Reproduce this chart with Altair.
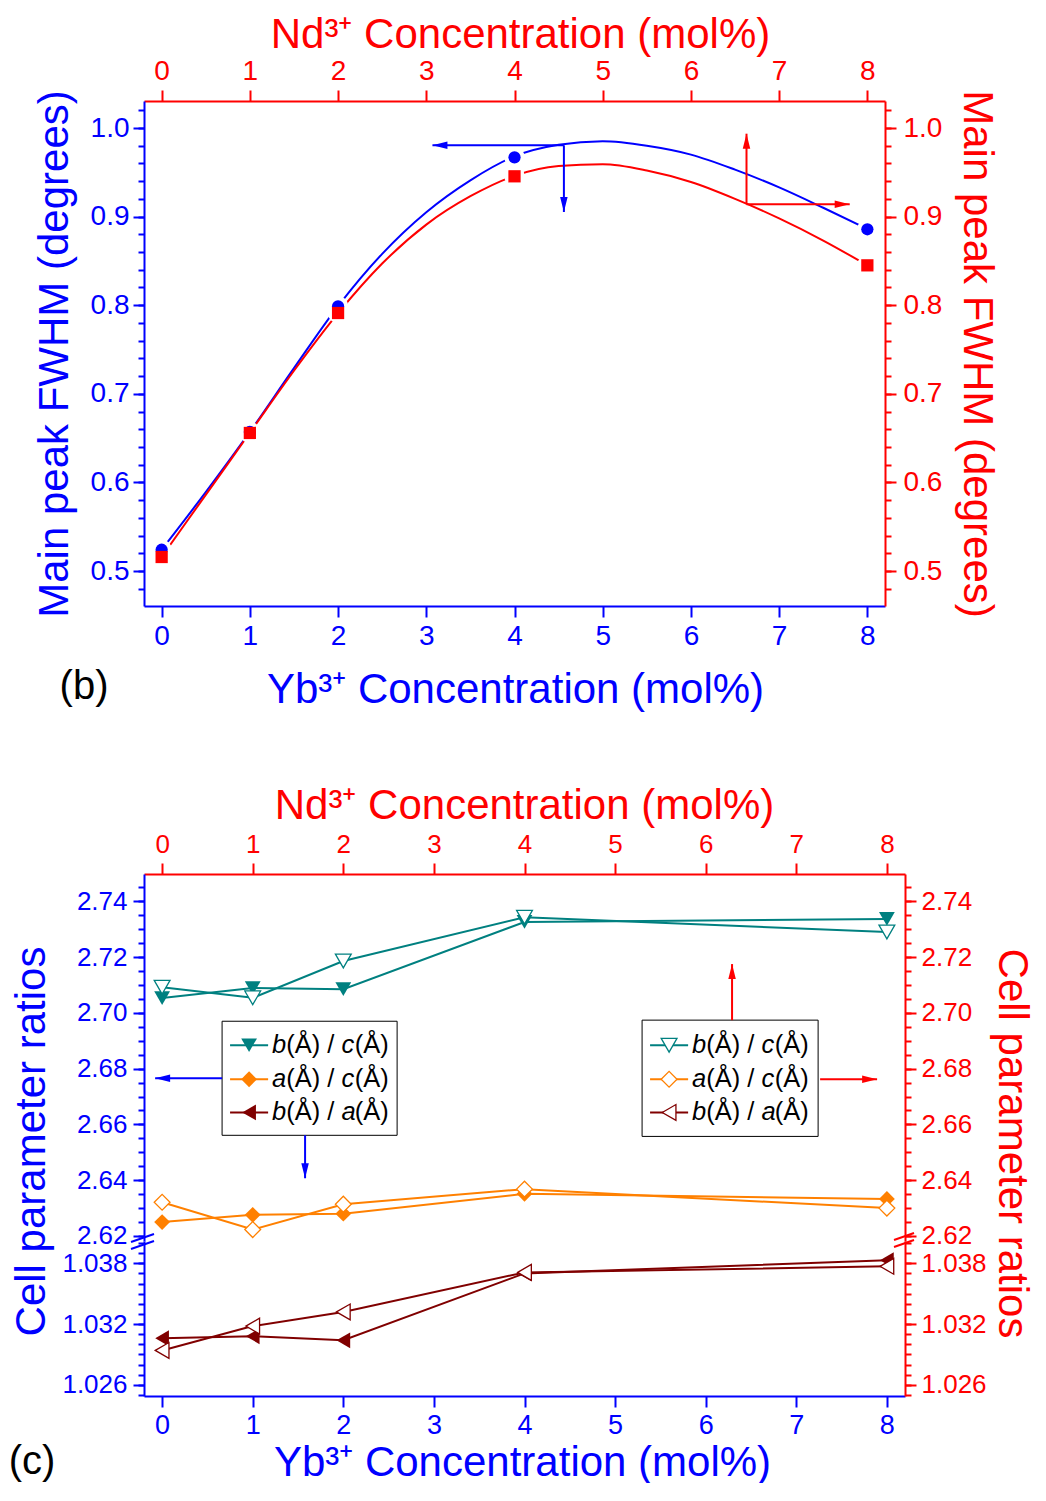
import altair as alt
import pandas as pd

# ---------------- data ----------------
conc = [0, 1, 2, 4, 8]
fwhm_yb = [0.5240, 0.6569, 0.7988, 0.9669, 0.8857]
fwhm_nd = [0.5158, 0.6558, 0.7912, 0.9455, 0.8450]

# spline curves of panel (b)
curve_x = [0, 0.5, 1, 1.5, 2, 2.5, 3, 3.5, 4, 4.5, 5, 5.5, 6, 6.5, 7, 7.5, 8]
curve_yb = [0.524, 0.589, 0.657, 0.729, 0.799, 0.858, 0.905, 0.941, 0.968,
            0.981, 0.985, 0.980, 0.970, 0.953, 0.933, 0.910, 0.886]
curve_nd = [0.516, 0.586, 0.656, 0.726, 0.791, 0.847, 0.891, 0.923, 0.946,
            0.957, 0.959, 0.952, 0.939, 0.920, 0.898, 0.873, 0.845]

bc_yb = [2.7053, 2.7089, 2.7085, 2.7326, 2.7337]
bc_nd = [2.7092, 2.7054, 2.7186, 2.7343, 2.7290]
ac_yb = [2.6250, 2.6276, 2.6280, 2.6351, 2.6333]
ac_nd = [2.6321, 2.6223, 2.6314, 2.6368, 2.6300]
ba_yb = [1.0306, 1.0308, 1.0304, 1.0370, 1.0383]
ba_nd = [1.0294, 1.0318, 1.0332, 1.0371, 1.0377]

x_ticks = [0, 1, 2, 3, 4, 5, 6, 7, 8]
ratio_keys = ["bc", "ac", "ba"]
ratio_first = ["b", "a", "b"]
ratio_second = ["c", "c", "a"]
ratio_colors = ["#008080", "#ff8000", "#800000"]
ratio_shapes = ["triangle-down", "diamond", "triangle-left"]

X_YB = "Yb³⁺ Concentration (mol%)"
X_ND = "Nd³⁺ Concentration (mol%)"
Y_B = "Main peak FWHM (degrees)"
Y_C = "Cell parameter ratios"

FONT = "Liberation Sans"
BLUE, RED = "#0000ff", "#ff0000"
ARROW = "M0,0L-0.5,2L0.5,2Z"
TFS = 42  # axis title font size

df_b = pd.DataFrame({"x": conc * 2, "y": fwhm_yb + fwhm_nd,
                     "s": ["Yb"] * 5 + ["Nd"] * 5})
df_curve = pd.DataFrame({"x": curve_x * 2, "y": curve_yb + curve_nd,
                         "s": ["Yb"] * len(curve_x) + ["Nd"] * len(curve_x)})
rows = []
for key, yb, nd in [("bc", bc_yb, bc_nd), ("ac", ac_yb, ac_nd), ("ba", ba_yb, ba_nd)]:
    for x, v in zip(conc, yb):
        rows.append({"x": x, "v": v, "r": key, "k": "Yb"})
    for x, v in zip(conc, nd):
        rows.append({"x": x, "v": v, "r": key, "k": "Nd"})
df_c = pd.DataFrame(rows)


# ---------------- axis helpers ----------------
def xaxis(orient, color, title, tx, ty, pad, lsize):
    return alt.Axis(orient=orient, values=x_ticks, format="d", grid=False,
                    domainColor=color, domainWidth=2, tickColor=color, tickWidth=2,
                    tickSize=11, labelColor=color, labelFont=FONT, labelFontSize=lsize,
                    labelPadding=pad, labelFlush=False, labelOverlap=False,
                    title=title, titleColor=color, titleFont=FONT, titleFontSize=TFS,
                    titleFontWeight="normal", titleX=tx, titleY=ty, titleAlign="center",
                    titleBaseline="alphabetic", titleAngle=0)


def yaxis(orient, color, values, fmt, lsize, pad, title=None, tx=0, ty=0):
    kw = dict(orient=orient, values=values, format=fmt, grid=False,
              domainColor=color, domainWidth=2, tickColor=color, tickWidth=2,
              tickSize=11, labelColor=color, labelFont=FONT, labelFontSize=lsize,
              labelPadding=pad, labelFlush=False, labelOverlap=False)
    if title:
        kw.update(title=title, titleColor=color, titleFont=FONT, titleFontSize=TFS,
                  titleFontWeight="normal", titleX=tx, titleY=ty,
                  titleAngle=270 if orient == "left" else 90,
                  titleAlign="center", titleBaseline="middle")
    else:
        kw["title"] = None
    return alt.Axis(**kw)


def minor(orient, color, values):
    return alt.Axis(orient=orient, values=values, labels=False, domain=False, grid=False,
                    tickColor=color, tickWidth=2, tickSize=6, title=None)


XDOM = [-0.2, 8.2]

# ---------------- panel (b) ----------------
W_B, H_B = 741, 505
xsc_b = alt.Scale(domain=XDOM, nice=False, zero=False)
ysc_b = alt.Scale(domain=[0.4605, 1.0305], nice=False, zero=False)
yb_major = [0.5, 0.6, 0.7, 0.8, 0.9, 1.0]
yb_minor = [round(0.46 + 0.02 * i, 2) for i in range(29)]

src_c = alt.Chart(df_curve)
fit_yb = src_c.transform_filter(alt.datum.s == "Yb").mark_line(
    color=BLUE, strokeWidth=2, interpolate="monotone"
).encode(
    x=alt.X("x:Q", scale=xsc_b, axis=xaxis("bottom", BLUE, X_YB, 371, 96, 5, 28)),
    y=alt.Y("y:Q", scale=ysc_b, axis=yaxis("left", BLUE, yb_major, ".1f", 28, 4, Y_B, -90, 252.5)),
)
fit_nd = src_c.transform_filter(alt.datum.s == "Nd").mark_line(
    color=RED, strokeWidth=2, interpolate="monotone"
).encode(
    x=alt.X("x:Q", scale=xsc_b, axis=xaxis("top", RED, X_ND, 376, -54, 5, 28)),
    y=alt.Y("y:Q", scale=ysc_b, axis=yaxis("right", RED, yb_major, ".1f", 28, 7, Y_B, 91, 252.5)),
)
src_b = alt.Chart(df_b)
halo = src_b.mark_point(shape="circle", filled=True, size=420, color="white", opacity=1).encode(
    x=alt.X("x:Q", scale=xsc_b, axis=None),
    y=alt.Y("y:Q", scale=ysc_b, axis=None),
)
pts_yb = src_b.transform_filter(alt.datum.s == "Yb").mark_point(
    shape="circle", filled=True, size=150, color=BLUE, opacity=1
).encode(
    x=alt.X("x:Q", scale=xsc_b, axis=None),
    y=alt.Y("y:Q", scale=ysc_b, axis=minor("left", BLUE, yb_minor)),
)
pts_nd = src_b.transform_filter(alt.datum.s == "Nd").mark_point(
    shape="square", filled=True, size=150, color=RED, opacity=1
).encode(
    x=alt.X("x:Q", scale=xsc_b, axis=None),
    y=alt.Y("y:Q", scale=ysc_b, axis=minor("right", RED, yb_minor)),
)

arr_b = pd.DataFrame({
    "x1": [4.56, 4.56, 6.63, 6.63],
    "y1": [0.9805, 0.9805, 0.914, 0.914],
    "x2": [3.07, 4.56, 6.63, 7.80],
    "y2": [0.9805, 0.9052, 0.9936, 0.914],
    "c": [BLUE, BLUE, RED, RED],
    "a": [270, 180, 0, 90],
})


def arrows(df, xsc, ysc):
    rules = alt.Chart(df).mark_rule(strokeWidth=2).encode(
        x=alt.X("x1:Q", scale=xsc, axis=None), x2="x2:Q",
        y=alt.Y("y1:Q", scale=ysc, axis=None), y2="y2:Q",
        color=alt.Color("c:N", scale=None),
    )
    heads = alt.Chart(df).mark_point(shape=ARROW, filled=True, size=225, opacity=1).encode(
        x=alt.X("x2:Q", scale=xsc, axis=None),
        y=alt.Y("y2:Q", scale=ysc, axis=None),
        color=alt.Color("c:N", scale=None),
        angle=alt.Angle("a:Q", scale=None),
    )
    return [rules, heads]


lab_b = alt.Chart(pd.DataFrame({"t": ["(b)"]})).mark_text(
    font=FONT, fontSize=40, color="black", align="center", baseline="middle"
).encode(text="t:N", x=alt.value(-60), y=alt.value(586))

panel_b = alt.layer(
    fit_yb, fit_nd, halo, pts_yb, pts_nd, *arrows(arr_b, xsc_b, ysc_b), lab_b
).resolve_axis(x="independent", y="independent").properties(width=W_B, height=H_B)

# ---------------- panel (c) ----------------
W_C, H_CU, H_CL = 761, 367, 155
xsc_c = alt.Scale(domain=XDOM, nice=False, zero=False)
ysc_cu = alt.Scale(domain=[2.6182, 2.7498], nice=False, zero=False)
ysc_cl = alt.Scale(domain=[1.0249, 1.0402], nice=False, zero=False)
cu_major = [2.62, 2.64, 2.66, 2.68, 2.70, 2.72, 2.74]
cu_minor = [round(2.62 + 0.005 * i, 3) for i in range(26)]
cl_major = [1.026, 1.032, 1.038]
cl_minor = [round(1.025 + 0.001 * i, 3) for i in range(16)]

cscale = alt.Scale(domain=ratio_keys, range=ratio_colors)
sscale = alt.Scale(domain=ratio_keys, range=ratio_shapes)


def series_layers(keys, ysc, ax_line_x, ax_line_y, ax_fill_y, ax_hollow_y):
    src = alt.Chart(df_c).transform_filter(alt.FieldOneOfPredicate(field="r", oneOf=keys))
    line = src.mark_line(strokeWidth=2).encode(
        x=alt.X("x:Q", scale=xsc_c, axis=ax_line_x),
        y=alt.Y("v:Q", scale=ysc, axis=ax_line_y),
        color=alt.Color("r:N", scale=cscale, legend=None),
        detail="k:N",
    )
    filled = src.transform_filter(alt.datum.k == "Yb").mark_point(
        filled=True, size=250, opacity=1
    ).encode(
        x=alt.X("x:Q", scale=xsc_c, axis=None),
        y=alt.Y("v:Q", scale=ysc, axis=ax_fill_y),
        color=alt.Color("r:N", scale=cscale, legend=None),
        shape=alt.Shape("r:N", scale=sscale, legend=None),
    )
    hollow = src.transform_filter(alt.datum.k == "Nd").mark_point(
        filled=False, fill="white", fillOpacity=1, strokeWidth=1.3, size=250, opacity=1
    ).encode(
        x=alt.X("x:Q", scale=xsc_c, axis=None),
        y=alt.Y("v:Q", scale=ysc, axis=ax_hollow_y),
        stroke=alt.Stroke("r:N", scale=cscale, legend=None),
        shape=alt.Shape("r:N", scale=sscale, legend=None),
    )
    return [line, filled, hollow]


# legend (drawn by hand, for the mixed italic text)
leg_box = pd.DataFrame({"x1": [0.662, 5.298], "x2": [2.594, 7.241],
                        "y1": [2.6970, 2.6974], "y2": [2.6561, 2.6557]})
leg_rows_y = [2.6884, 2.6762, 2.6643]
leg_line_x = {"Yb": (0.75, 1.17, 0.96, 1.214), "Nd": (5.386, 5.806, 5.596, 5.85)}
lrows = []
for k, (lx1, lx2, mx, tx) in leg_line_x.items():
    for key, f, s, ly in zip(ratio_keys, ratio_first, ratio_second, leg_rows_y):
        lrows.append({"k": k, "r": key, "f": f, "s": s, "y": ly,
                      "lx1": lx1, "lx2": lx2, "mx": mx, "tx": tx})
df_leg = pd.DataFrame(lrows)

LFS = 25.5
w_b = 0.556 * LFS
w_mid = (0.333 + 0.667 + 0.333 + 0.278 + 0.278 + 0.278) * LFS
w_c = 0.52 * LFS

box = alt.Chart(leg_box).mark_rect(fill="white", stroke="black", strokeWidth=1).encode(
    x=alt.X("x1:Q", scale=xsc_c, axis=None), x2="x2:Q",
    y=alt.Y("y1:Q", scale=ysc_cu, axis=minor("right", RED, cu_minor)), y2="y2:Q",
)
leg_src = alt.Chart(df_leg)
leg_lines = leg_src.mark_rule(strokeWidth=2).encode(
    x=alt.X("lx1:Q", scale=xsc_c, axis=None), x2="lx2:Q",
    y=alt.Y("y:Q", scale=ysc_cu, axis=None),
    color=alt.Color("r:N", scale=cscale, legend=None),
)
leg_fill = leg_src.transform_filter(alt.datum.k == "Yb").mark_point(
    filled=True, size=250, opacity=1
).encode(
    x=alt.X("mx:Q", scale=xsc_c, axis=None),
    y=alt.Y("y:Q", scale=ysc_cu, axis=None),
    color=alt.Color("r:N", scale=cscale, legend=None),
    shape=alt.Shape("r:N", scale=sscale, legend=None),
)
leg_hollow = leg_src.transform_filter(alt.datum.k == "Nd").mark_point(
    filled=False, fill="white", fillOpacity=1, strokeWidth=1.3, size=250, opacity=1
).encode(
    x=alt.X("mx:Q", scale=xsc_c, axis=None),
    y=alt.Y("y:Q", scale=ysc_cu, axis=None),
    stroke=alt.Stroke("r:N", scale=cscale, legend=None),
    shape=alt.Shape("r:N", scale=sscale, legend=None),
)


def leg_text(field, dx, italic, const=None):
    mk = leg_src.mark_text(font=FONT, fontSize=LFS, color="black", align="left",
                           baseline="middle", dx=dx, fontStyle="italic" if italic else "normal")
    enc = dict(x=alt.X("tx:Q", scale=xsc_c, axis=None),
               y=alt.Y("y:Q", scale=ysc_cu, axis=None))
    if const is not None:
        enc["text"] = alt.value(const)
    else:
        enc["text"] = alt.Text(field + ":N")
    return mk.encode(**enc)


leg_texts = [
    leg_text("f", 0, True),
    leg_text("", w_b, False, "(Å) / "),
    leg_text("s", w_b + w_mid, True),
    leg_text("", w_b + w_mid + w_c, False, "(Å)"),
]

arr_c = pd.DataFrame({
    "x1": [0.662, 1.578, 6.291, 7.263],
    "y1": [2.6766, 2.6561, 2.6974, 2.6762],
    "x2": [-0.077, 1.578, 6.291, 7.892],
    "y2": [2.6766, 2.6407, 2.7175, 2.6762],
    "c": [BLUE, BLUE, RED, RED],
    "a": [270, 180, 0, 90],
})

upper = alt.layer(
    *series_layers(
        ["bc", "ac"], ysc_cu,
        xaxis("top", RED, X_ND, 380, -56, 6, 26),
        yaxis("left", BLUE, cu_major, ".2f", 26, 6, Y_C, -113, 267),
        yaxis("right", RED, cu_major, ".2f", 26, 5, Y_C, 106, 269),
        minor("left", BLUE, cu_minor),
    ),
    box, leg_lines, leg_fill, leg_hollow, *leg_texts,
    *arrows(arr_c, xsc_c, ysc_cu),
).resolve_axis(x="independent", y="independent").properties(width=W_C, height=H_CU)

one = pd.DataFrame({"d": [0]})


def slash(x1, x2, y1, y2, color):
    return alt.Chart(one).mark_rule(strokeWidth=2, color=color).encode(
        x=alt.value(x1), x2=alt.value(x2), y=alt.value(y1), y2=alt.value(y2))


lab_c = alt.Chart(pd.DataFrame({"t": ["(c)"]})).mark_text(
    font=FONT, fontSize=40, color="black", align="center", baseline="middle"
).encode(text="t:N", x=alt.value(-112), y=alt.value(221))

ghost = alt.Chart(df_c).transform_filter(alt.datum.r == "ba").mark_point(opacity=0).encode(
    x=alt.X("x:Q", scale=xsc_c, axis=None),
    y=alt.Y("v:Q", scale=ysc_cl, axis=minor("right", RED, cl_minor)),
)

lower = alt.layer(
    *series_layers(
        ["ba"], ysc_cl,
        xaxis("bottom", BLUE, X_YB, 378, 79, 5, 27),
        yaxis("left", BLUE, cl_major, ".3f", 26, 6),
        yaxis("right", RED, cl_major, ".3f", 26, 5),
        minor("left", BLUE, cl_minor),
    ),
    ghost,
    slash(-13, 10, 1, -7, BLUE), slash(-13, 10, 8, 0, BLUE),
    slash(W_C - 11, W_C + 9, -1, -8, RED), slash(W_C - 11, W_C + 9, 6, -1, RED),
    lab_c,
).resolve_axis(x="independent", y="independent").properties(width=W_C, height=H_CL)

panel_c = alt.VConcatChart(vconcat=[upper, lower], spacing=0, bounds="flush").resolve_scale(
    x="independent", y="independent")

chart = alt.VConcatChart(
    vconcat=[panel_b, panel_c], spacing=268, bounds="flush",
    padding={"left": 0, "top": 5, "right": 0, "bottom": 0},
).resolve_scale(x="independent", y="independent").configure_view(stroke=None)

chart.save("out.html", embed_options={"renderer": "svg", "actions": False})
